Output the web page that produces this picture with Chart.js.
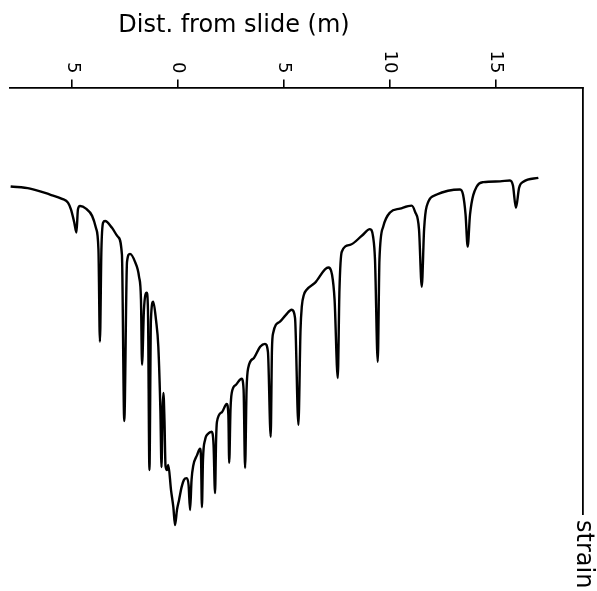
<!DOCTYPE html>
<html>
<head>
<meta charset="utf-8">
<script src="https://cdn.jsdelivr.net/npm/chart.js@4/dist/chart.umd.min.js"></script>
<style>
  html, body { margin: 0; padding: 0; background: #fff; }
  #wrap { width: 597px; height: 591px; }
</style>
</head>
<body>
<div id="wrap"><canvas id="strainChart" width="597" height="591"></canvas></div>
<script>
// Distance from slide (m) and strain (arbitrary units, increasing downward)
const distM = [
  -7.91, -6.99, -6.05, -5.48, -5.20, -5.06, -4.91, -4.80, -4.73, -4.63,
  -4.35, -4.06, -3.88, -3.76, -3.69, -3.62, -3.54, -3.45, -3.12, -2.84,
  -2.65, -2.54, -2.41, -2.27, -2.03, -1.84, -1.75, -1.70, -1.61, -1.48,
  -1.42, -1.35, -1.28, -1.17, -1.04, -0.93, -0.83, -0.78, -0.73, -0.69,
  -0.64, -0.59, -0.52, -0.46, -0.33, -0.22, -0.14, -0.05, 0.05, 0.17,
  0.28, 0.41, 0.50, 0.57, 0.64, 0.72, 0.90, 1.04, 1.09, 1.13,
  1.18, 1.28, 1.42, 1.59, 1.68, 1.75, 1.80, 1.84, 2.08, 2.30,
  2.38, 2.42, 2.48, 2.54, 2.74, 3.01, 3.10, 3.17, 3.24, 3.32,
  3.59, 3.88, 4.11, 4.25, 4.38, 4.44, 4.50, 4.82, 5.10, 5.37,
  5.53, 5.69, 5.79, 5.85, 5.95, 6.08, 6.47, 7.10, 7.28, 7.40,
  7.55, 7.63, 7.74, 8.13, 8.70, 9.07, 9.22, 9.31, 9.44, 9.52,
  9.70, 10.02, 10.49, 11.04, 11.20, 11.39, 11.52, 11.63, 11.75, 12.23,
  12.76, 13.33, 13.47, 13.59, 13.69, 13.80, 14.12, 14.43, 15.22, 15.69,
  15.83, 15.97, 16.12, 16.32, 17.03
];
const strain = [
  2.32, 2.37, 2.51, 2.61, 2.70, 2.86, 3.15, 3.40, 2.86, 2.78,
  2.84, 3.01, 3.29, 3.80, 5.96, 3.80, 3.17, 3.13, 3.29, 3.50,
  3.92, 7.82, 4.09, 3.90, 4.09, 4.44, 4.98, 6.50, 5.21, 4.81,
  5.21, 8.97, 5.45, 5.02, 5.45, 6.08, 7.63, 8.90, 7.56, 7.16,
  7.79, 8.87, 8.97, 8.85, 9.44, 9.84, 10.26, 9.91, 9.67, 9.37,
  9.20, 9.16, 9.32, 9.91, 9.20, 8.87, 8.62, 8.47, 8.73, 9.84,
  8.73, 8.26, 8.12, 8.07, 8.38, 9.51, 8.26, 7.84, 7.61, 7.42,
  7.68, 8.80, 7.56, 7.16, 6.97, 6.83, 7.09, 8.92, 7.09, 6.57,
  6.34, 6.08, 6.01, 6.20, 8.19, 6.15, 5.75, 5.49, 5.33, 5.21,
  5.40, 7.91, 5.68, 5.14, 4.86, 4.74, 4.58, 4.22, 4.39, 4.98,
  6.81, 4.74, 3.85, 3.69, 3.47, 3.32, 3.50, 4.04, 6.43, 4.04,
  3.26, 2.93, 2.84, 2.77, 2.91, 3.33, 4.67, 3.33, 2.79, 2.51,
  2.42, 2.39, 2.51, 2.98, 3.73, 2.98, 2.32, 2.22, 2.20, 2.18,
  2.30, 2.82, 2.35, 2.21, 2.12
];
const distTicks = [-5, 0, 5, 10, 15];

const titleText = 'Dist. from slide (m)';
const strainText = 'strain';
const FONT = '"DejaVu Sans", sans-serif';

// tick labels turned clockwise, plus title and strain label
const labelsPlugin = {
    id: 'labels',
    afterDraw(chart) {
        const ctx = chart.ctx;
        const xs = chart.scales.x;
        const area = chart.chartArea;
        ctx.save();
        ctx.fillStyle = '#000';

        ctx.font = '18px ' + FONT;
        distTicks.forEach(v => {
            const px = xs.getPixelForValue(v);
            ctx.save();
            ctx.translate(px, area.top - 14);
            ctx.rotate(Math.PI / 2);
            ctx.textAlign = 'right';
            ctx.textBaseline = 'middle';
            ctx.fillText(String(Math.abs(v)), 0, 0);
            ctx.restore();
        });

        ctx.font = '24px ' + FONT;
        ctx.textAlign = 'center';
        ctx.textBaseline = 'middle';
        ctx.fillText(titleText, 234, 26);

        ctx.save();
        ctx.translate(area.right, area.bottom + 6);
        ctx.rotate(Math.PI / 2);
        ctx.textAlign = 'left';
        ctx.textBaseline = 'middle';
        ctx.fillText(strainText, 0, 0);
        ctx.restore();

        ctx.restore();
    }
};

const ctx = document.getElementById('strainChart').getContext('2d');
new Chart(ctx, {
    type: 'line',
    data: {
        datasets: [{
            data: distM.map((d, i) => ({ x: d, y: strain[i] })),
            borderColor: '#000',
            borderWidth: 2.4,
            pointRadius: 0,
            fill: false,
            cubicInterpolationMode: 'monotone',
            clip: false
        }]
    },
    options: {
        responsive: false,
        animation: false,
        devicePixelRatio: 1,
        layout: { padding: { top: 0, left: 10, right: 14, bottom: 77 } },
        plugins: { legend: { display: false }, tooltip: { enabled: false } },
        scales: {
            x: {
                type: 'linear',
                position: 'top',
                min: -7.94,
                max: 19.14,
                afterBuildTicks: s => { s.ticks = distTicks.map(v => ({ value: v })); },
                afterFit: s => { s.height = 87.5; },
                ticks: { display: false },
                grid: { drawOnChartArea: false, drawTicks: true, tickLength: 8, color: '#000', lineWidth: 1.6 },
                border: { display: true, color: '#000', width: 1.8 }
            },
            y: {
                type: 'linear',
                position: 'right',
                reverse: true,
                min: 0,
                max: 10,
                afterFit: s => { s.width = 0; },
                ticks: { display: false },
                grid: { display: false },
                border: { display: true, color: '#000', width: 1.8 }
            }
        }
    },
    plugins: [labelsPlugin]
});
</script>
</body>
</html>
